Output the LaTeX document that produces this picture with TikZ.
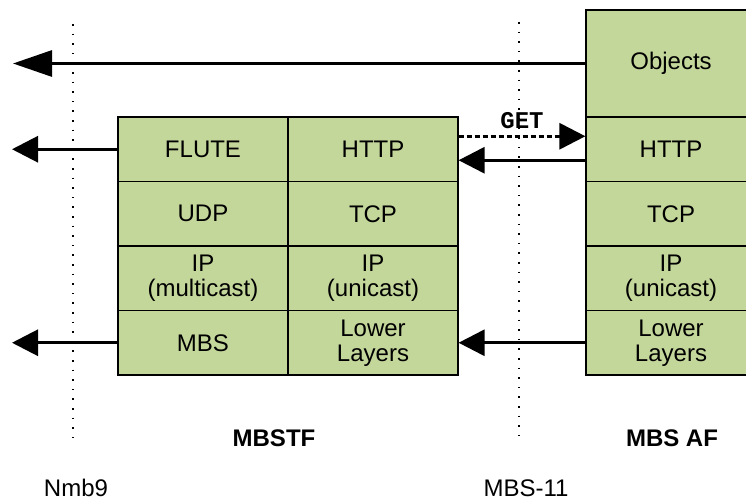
\documentclass[tikz,border=0pt]{standalone}
\usepackage{fontspec}
\setmainfont{Liberation Sans}
\setmonofont{Liberation Mono}
\usetikzlibrary{arrows.meta}
\definecolor{boxgreen}{HTML}{C4D79B}
\begin{document}
\begin{tikzpicture}[x=1pt,y=-1pt,
  cell/.style={draw, fill=boxgreen, line width=1.2pt, minimum width=170pt,
    minimum height=64.5pt, inner sep=0pt, align=center,
    font=\fontsize{24}{25}\selectfont},
  rcell/.style={cell},
  arr/.style={line width=3pt, -{Triangle[length=26pt,width=26pt]}},
  dotline/.style={line width=1.6pt, dash pattern=on 1.6pt off 8pt},
  lbl/.style={font=\fontsize{24}{25}\selectfont, inner sep=0pt},
  blbl/.style={font=\fontsize{24}{25}\selectfont\bfseries, inner sep=0pt}]
\useasboundingbox (0,0) rectangle (746,502);
\begin{scope}
\clip (0,0) rectangle (746,502);
% dotted reference lines
\coordinate (d1t) at (73,24);
\coordinate (d1b) at (73,440);
\coordinate (d2t) at (519,22);
\coordinate (d2b) at (519,440);
\draw[dotline] (d1t) -- (d1b);
\draw[dotline] (d2t) -- (d2b);
% MBSTF stack
\node[cell] (flute) at (203,149.25) {FLUTE};
\node[cell] (httpM) at (373,149.25) {HTTP};
\node[cell] (udp) at (203,213.75) {UDP};
\node[cell] (tcpM) at (373,213.75) {TCP};
\node[cell] (ipmc) at (203,278.25) {IP\\(multicast)};
\node[cell] (ipuM) at (373,278.25) {IP\\(unicast)};
\node[cell] (mbs) at (203,342.75) {MBS};
\node[cell] (lowM) at (373,342.75) {Lower\\Layers};
% MBS AF stack
\node[rcell, minimum height=107pt] (obj) at (671,63.5) {Objects};
\node[rcell] (httpR) at (671,149.25) {HTTP};
\node[rcell] (tcpR) at (671,213.75) {TCP};
\node[rcell] (ipuR) at (671,278.25) {IP\\(unicast)};
\node[rcell] (lowR) at (671,342.75) {Lower\\Layers};
% arrow end points
\coordinate (objEnd) at (13,63.5);
\coordinate (fluteEnd) at (12,149.25);
\coordinate (mbsEnd) at (12,342.75);
\draw[line width=3pt, -{Triangle[length=39pt,width=26pt]}] (obj.west) -- (objEnd);
\draw[arr] (flute.west) -- (fluteEnd);
\draw[arr] (mbs.west) -- (mbsEnd);
\draw[arr] ([yshift=-11pt]httpR.west) -- ([yshift=-11pt]httpM.east);
\draw[arr] (lowR.west) -- (lowM.east);
\draw[arr, line width=3pt, dash pattern=on 5pt off 3pt] ([yshift=13pt]httpM.east) -- node[above=6pt, font=\fontsize{24}{25}\selectfont\ttfamily\bfseries, inner sep=0pt] (get) {GET} ([yshift=13pt]httpR.west);
% labels
\node[blbl] (mbstf) at (274,438) {MBSTF};
\node[blbl] (mbsaf) at (672,438) {MBS AF};
\node[lbl] (nmb9) at (76,488) {Nmb9};
\node[lbl] (mbs11) at (526,488) {MBS-11};
\end{scope}
\end{tikzpicture}
\end{document}
